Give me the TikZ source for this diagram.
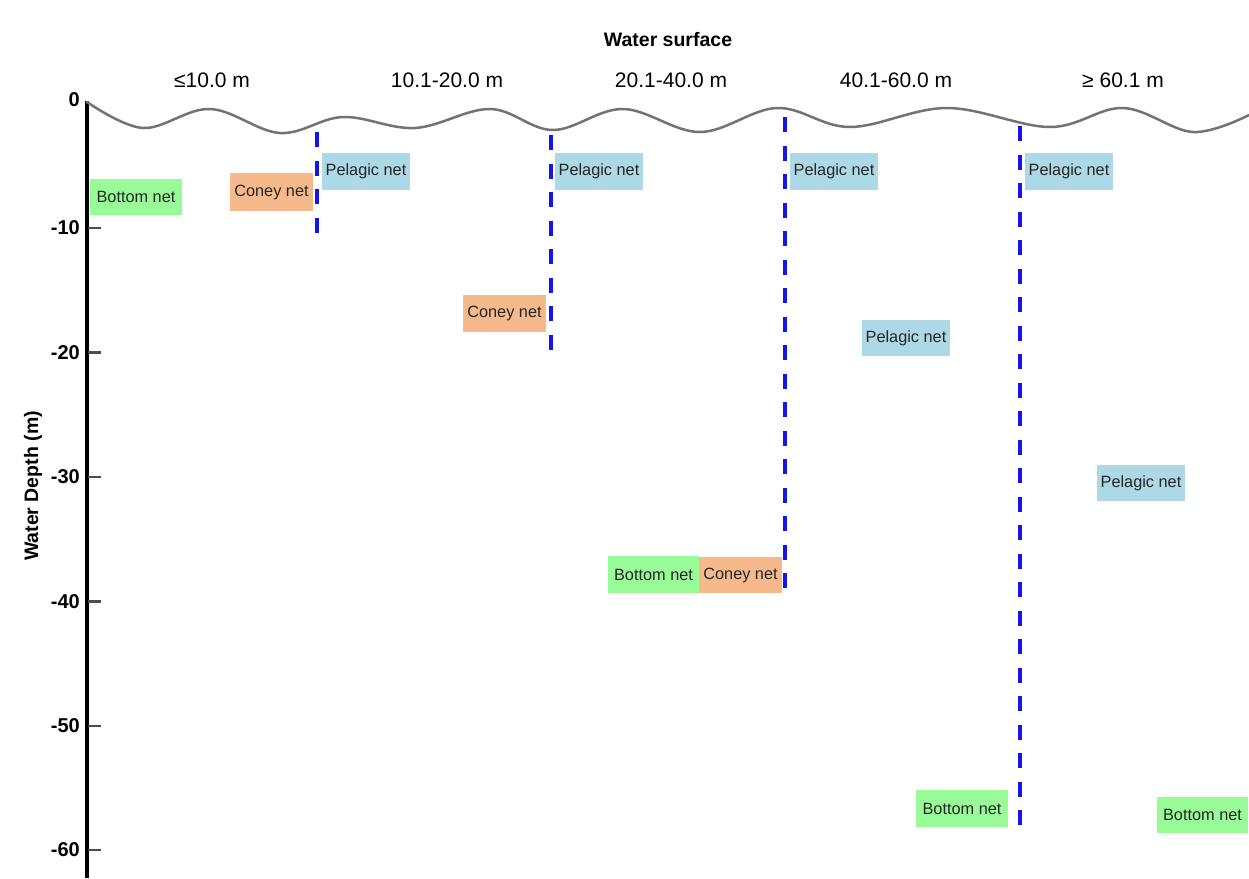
\documentclass[tikz,border=0pt]{standalone}
\usepackage{fontspec}
\setmainfont{Liberation Sans}
\begin{document}
\begin{tikzpicture}[x=1pt,y=-1pt,
  netbox/.style={inner sep=0pt,minimum height=37pt,font=\fontsize{16.3}{17}\selectfont,text=black!85},
  bottomnet/.style={netbox,fill=greenbox,minimum width=92pt},
  coneynet/.style={netbox,fill=orangebox,minimum width=83pt},
  pelagicnet/.style={netbox,fill=bluebox,minimum width=88pt},
  depthline/.style={draw=blueline,line width=4pt,dash pattern=on 15pt off 13.5pt},
  ticklab/.style={anchor=east,inner sep=0pt,font=\bfseries\fontsize{20}{21}\selectfont},
  colhead/.style={inner sep=0pt,font=\fontsize{21}{22}\selectfont},
  tickmark/.style={draw=black!70,line width=2.5pt}
]
\definecolor{greenbox}{RGB}{152,251,152}
\definecolor{orangebox}{RGB}{245,185,140}
\definecolor{bluebox}{RGB}{173,216,230}
\definecolor{blueline}{RGB}{20,20,235}
\useasboundingbox[fill=white] (0,0) rectangle (1249,878);

% title and column headings
\node[inner sep=0pt,font=\bfseries\fontsize{19.5}{20}\selectfont] (title) at (668,40) {Water surface};
\node[colhead] (h1) at (212,80) {≤10.0 m};
\node[colhead] (h2) at (447,80) {10.1-20.0 m};
\node[colhead] (h3) at (671,80) {20.1-40.0 m};
\node[colhead] (h4) at (896,80) {40.1-60.0 m};
\node[colhead] (h5) at (1123,80) {≥ 60.1 m};

% axis
\coordinate (axtop) at (87,101);
\coordinate (axbot) at (87,878);
\draw[line width=3.5pt,black] (axtop) -- (axbot);
\foreach \v/\yy in {10/228,20/352.5,30/477,40/601.5,50/726,60/850}{
  \draw[tickmark] (88,\yy) -- (101,\yy);
  \node[ticklab] (t\v) at (80,\yy) {-\v};
}
\node[ticklab] (t0) at (80,100) {0};
\node[rotate=90,inner sep=0pt,font=\bfseries\fontsize{19.5}{20}\selectfont] (ylab) at (33,486) {Water Depth (m)};

% water surface wave
\draw[line width=2.5pt,black!55,line cap=round] plot[smooth,tension=0.6] coordinates {
 (87,102) (143,128) (210,109) (280,133) (343,117) (415,128) (490,109) (553,130)
 (623,109) (700,132) (777,108) (850,127) (947,108) (1050,127) (1123,108) (1193,132) (1249,115)};

% depth boundary lines
\coordinate (l1a) at (317,132); \coordinate (l1b) at (317,236);
\coordinate (l2a) at (551,135); \coordinate (l2b) at (551,353);
\coordinate (l3a) at (785,117); \coordinate (l3b) at (785,598);
\coordinate (l4a) at (1020,126); \coordinate (l4b) at (1020,837);
\draw[depthline] (l1a) -- (l1b);
\draw[depthline] (l2a) -- (l2b);
\draw[depthline] (l3a) -- (l3b);
\draw[depthline] (l4a) -- (l4b);

% nets
\node[bottomnet,minimum height=36pt] (b1) at (136,197) {Bottom net};
\node[coneynet,minimum height=38pt] (c1) at (271.5,192) {Coney net};
\node[pelagicnet] (p1) at (366,171.5) {Pelagic net};
\node[pelagicnet] (p2) at (599,171.5) {Pelagic net};
\node[pelagicnet] (p3) at (834,171.5) {Pelagic net};
\node[pelagicnet] (p4) at (1069,171.5) {Pelagic net};
\node[coneynet] (c2) at (504.5,313.5) {Coney net};
\node[pelagicnet,minimum height=36pt] (p5) at (906,338) {Pelagic net};
\node[pelagicnet,minimum height=36pt] (p6) at (1141,483) {Pelagic net};
\node[bottomnet,minimum width=91pt] (b2) at (653.5,574.5) {Bottom net};
\node[coneynet,minimum height=36pt] (c3) at (740.5,575) {Coney net};
\node[bottomnet] (b3) at (962,808.5) {Bottom net};
\node[bottomnet,minimum width=91pt,minimum height=36pt] (b4) at (1202.5,815) {Bottom net};
\end{tikzpicture}
\end{document}
